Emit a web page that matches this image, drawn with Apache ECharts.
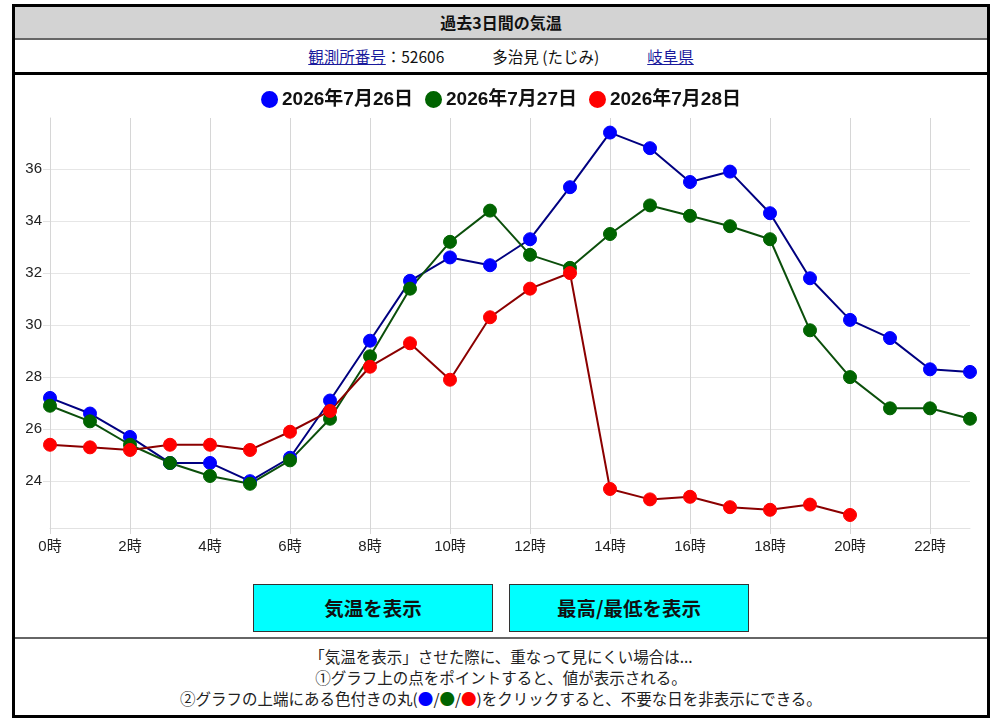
<!DOCTYPE html>
<html>
<head>
<meta charset="UTF-8">
<title>過去3日間の気温</title>
<script src="https://cdn.jsdelivr.net/npm/echarts@6/dist/echarts.min.js"></script>
<style>
  body { margin: 0; background: #fff; font-family: "Noto Sans CJK JP", sans-serif; color: #111; }
  #frame { position: absolute; left: 12px; top: 4px; width: 972px; height: 708px; border: 3px solid #000; }
  #head { position: absolute; left: 0; top: 0; width: 972px; height: 31px; background: #d3d3d3;
          border-bottom: 2px solid #666; text-align: center; font-size: 16px; font-weight: bold; line-height: 31px; }
  #info { position: absolute; left: 0; top: 33px; width: 972px; height: 32px; border-bottom: 3px solid #000;
          text-align: center; font-size: 15.5px; line-height: 32px; }
  #info a { color: #1a1a9c; text-decoration: underline; }
  #info .gap { display: inline-block; width: 48px; }
  #chart { position: absolute; left: 0; top: 68px; width: 972px; height: 500px; }
  .btn { position: absolute; top: 577px; width: 238px; height: 46px; background: #00ffff; border: 1px solid #333;
         text-align: center; line-height: 46px; font-size: 19.5px; font-weight: bold; color: #111; }
  #foot { position: absolute; left: 0; top: 630px; width: 972px; height: 78px; border-top: 2px solid #666;
          text-align: center; font-size: 15.5px; line-height: 21px; padding-top: 7px; box-sizing: border-box; color: #222; }
</style>
</head>
<body>
<div id="frame">
  <div id="head">過去3日間の気温</div>
  <div id="info"><a>観測所番号</a>：52606<span class="gap"></span>多治見 (たじみ)<span class="gap"></span><a>岐阜県</a></div>
  <div id="chart"></div>
  <div class="btn" style="left:238px;">気温を表示</div>
  <div class="btn" style="left:494px;">最高/最低を表示</div>
  <div id="foot">
    「気温を表示」させた際に、重なって見にくい場合は...<br>
    ①グラフ上の点をポイントすると、値が表示される。<br>
    ②グラフの上端にある色付きの丸(<span style="color:#0000ff">●</span>/<span style="color:#006400">●</span>/<span style="color:#ff0000">●</span>)をクリックすると、不要な日を非表示にできる。
  </div>
</div>
<script>
// 時刻ラベル
const hours = ['0時','1時','2時','3時','4時','5時','6時','7時','8時','9時','10時','11時',
               '12時','13時','14時','15時','16時','17時','18時','19時','20時','21時','22時','23時'];

const dayNames = ['2026年7月26日', '2026年7月27日', '2026年7月28日'];

// 気温 (℃)
const temp0726 = [27.2, 26.6, 25.7, 24.7, 24.7, 24.0, 24.9, 27.1, 29.4, 31.7, 32.6, 32.3,
                  33.3, 35.3, 37.4, 36.8, 35.5, 35.9, 34.3, 31.8, 30.2, 29.5, 28.3, 28.2];
const temp0727 = [26.9, 26.3, 25.4, 24.7, 24.2, 23.9, 24.8, 26.4, 28.8, 31.4, 33.2, 34.4,
                  32.7, 32.2, 33.5, 34.6, 34.2, 33.8, 33.3, 29.8, 28.0, 26.8, 26.8, 26.4];
const temp0728 = [25.4, 25.3, 25.2, 25.4, 25.4, 25.2, 25.9, 26.7, 28.4, 29.3, 27.9, 30.3,
                  31.4, 32.0, 23.7, 23.3, 23.4, 23.0, 22.9, 23.1, 22.7, null, null, null];

const yTicks = [24, 26, 28, 30, 32, 34, 36];

const lineColors = ['#000080', '#0b4f0b', '#8b0000'];
const dotColors = ['#0000ff', '#006400', '#ff0000'];
const numFont = 'Liberation Sans, Arial, Noto Sans CJK JP, sans-serif';

const chart = echarts.init(document.getElementById('chart'));

function makeSeries(name, data, i) {
  return {
    name: name,
    type: 'line',
    data: data,
    symbol: 'circle',
    symbolSize: 13,
    showAllSymbol: true,
    connectNulls: false,
    lineStyle: { width: 2, color: lineColors[i] },
    itemStyle: { color: dotColors[i], borderColor: dotColors[i], borderWidth: 1 },
    emphasis: { disabled: true }
  };
}

chart.setOption({
  animation: false,
  legend: {
    top: 10,
    left: 'center',
    icon: 'circle',
    itemWidth: 15,
    itemHeight: 15,
    itemGap: 12,
    textStyle: { fontSize: 19, fontWeight: 'bold', color: '#111', fontFamily: numFont },
    data: dayNames
  },
  grid: { left: 35, right: 17, top: 43, bottom: 47 },
  xAxis: {
    type: 'category',
    data: hours,
    boundaryGap: false,
    axisLine: { show: true, lineStyle: { color: '#e2e2e2', width: 1 } },
    axisTick: { show: true, interval: 1, length: 6, lineStyle: { color: '#d6d6d6' } },
    axisLabel: { interval: 1, color: '#222', fontSize: 15, fontFamily: numFont, margin: 11 },
    splitLine: { show: true, interval: 1, lineStyle: { color: '#d6d6d6' } }
  },
  yAxis: {
    type: 'value',
    min: 22.2,
    max: 37.96,
    axisLine: { show: true, lineStyle: { color: '#d6d6d6' } },
    axisTick: { show: true, length: 7, customValues: yTicks, lineStyle: { color: '#e2e2e2' } },
    axisLabel: { customValues: yTicks, color: '#222', fontSize: 15, fontFamily: numFont, margin: 8 },
    splitLine: { show: true, lineStyle: { color: '#e6e6e6' } }
  },
  series: [
    makeSeries(dayNames[0], temp0726, 0),
    makeSeries(dayNames[1], temp0727, 1),
    makeSeries(dayNames[2], temp0728, 2)
  ]
});
</script>
</body>
</html>
